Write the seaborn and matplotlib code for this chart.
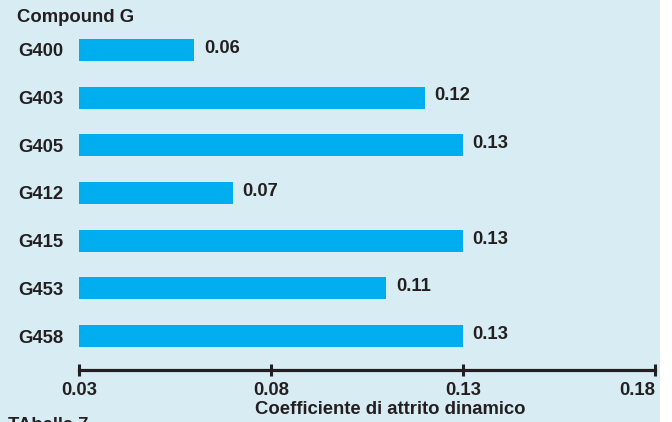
import matplotlib
matplotlib.use("Agg")
import matplotlib.pyplot as plt
from matplotlib.patches import Rectangle
from matplotlib.transforms import offset_copy
import seaborn as sns
import pandas as pd

compounds = ["G400", "G403", "G405", "G412", "G415", "G453", "G458"]
friction = [0.06, 0.12, 0.13, 0.07, 0.13, 0.11, 0.13]
x_ticks = [0.03, 0.08, 0.13, 0.18]
x_tick_labels = ["0.03", "0.08", "0.13", "0.18"]

title = "Compound G"
x_label = "Coefficiente di attrito dinamico"
caption = "TAbella 7"

BG = "#D8ECF4"
BAR = "#00AEEF"
INK = "#231F20"

sns.set_style("white")
plt.rcParams["font.family"] = ["Liberation Sans", "DejaVu Sans"]
plt.rcParams["font.weight"] = "bold"

FS = 13.3

W, H = 672, 422
fig = plt.figure(figsize=(W / 100, H / 100), dpi=100, facecolor="white")
fig.patches.append(Rectangle((0, 0), 660 / W, 1, transform=fig.transFigure,
                             facecolor=BG, edgecolor="none", zorder=-10))

ax = fig.add_axes([79 / W, (H - 370) / H, 576 / W, (370 - 21) / H])
ax.set_facecolor("none")

df = pd.DataFrame({"compound": compounds, "friction": friction})
sns.barplot(data=df, x="friction", y="compound", order=compounds, orient="h",
            color=BAR, saturation=1, width=0.46, ax=ax)
for p in ax.patches:
    p.set_edgecolor("none")

ax.set_xlim(0.03, 0.18)
ax.set_ylim(6.713, -0.608)

for s in ["top", "left", "right"]:
    ax.spines[s].set_visible(False)
ax.spines["bottom"].set_color(INK)
ax.spines["bottom"].set_linewidth(2.3)

ax.set_xticks(x_ticks)
ax.set_xticklabels(x_tick_labels)
ax.tick_params(axis="x", bottom=True, direction="inout", length=8.6, width=2.2,
               color=INK, labelsize=FS, labelcolor=INK, pad=4)
ax.tick_params(axis="y", left=False, length=0, pad=11.5, labelsize=FS,
               labelcolor=INK)
for t in ax.get_xticklabels() + ax.get_yticklabels():
    t.set_fontweight("bold")
# last tick label sits flush against the end of the axis
ax.get_xticklabels()[-1].set_horizontalalignment("right")
for tl in ax.xaxis.get_ticklines():
    tl.set_clip_on(False)

ax.set_xlabel("")
ax.set_ylabel("")

# value labels at the end of each bar
trans = offset_copy(ax.transData, fig=fig, x=7, y=1.2, units="points")
for i, v in enumerate(friction):
    ax.text(v, i, f"{v:.2f}", transform=trans, ha="left", va="center",
            fontsize=FS, fontweight="bold", color=INK)

fig.text(17 / W, 1 - 17.5 / H, title, ha="left", va="center",
         fontsize=FS, fontweight="bold", color=INK)
fig.text(390 / W, 1 - 409 / H, x_label, ha="center", va="center",
         fontsize=FS, fontweight="bold", color=INK)
fig.text(8 / W, 1 - 417 / H, caption, ha="left", va="top",
         fontsize=FS, fontweight="bold", color=INK)

fig.savefig("out.png", dpi=100, facecolor="white")
